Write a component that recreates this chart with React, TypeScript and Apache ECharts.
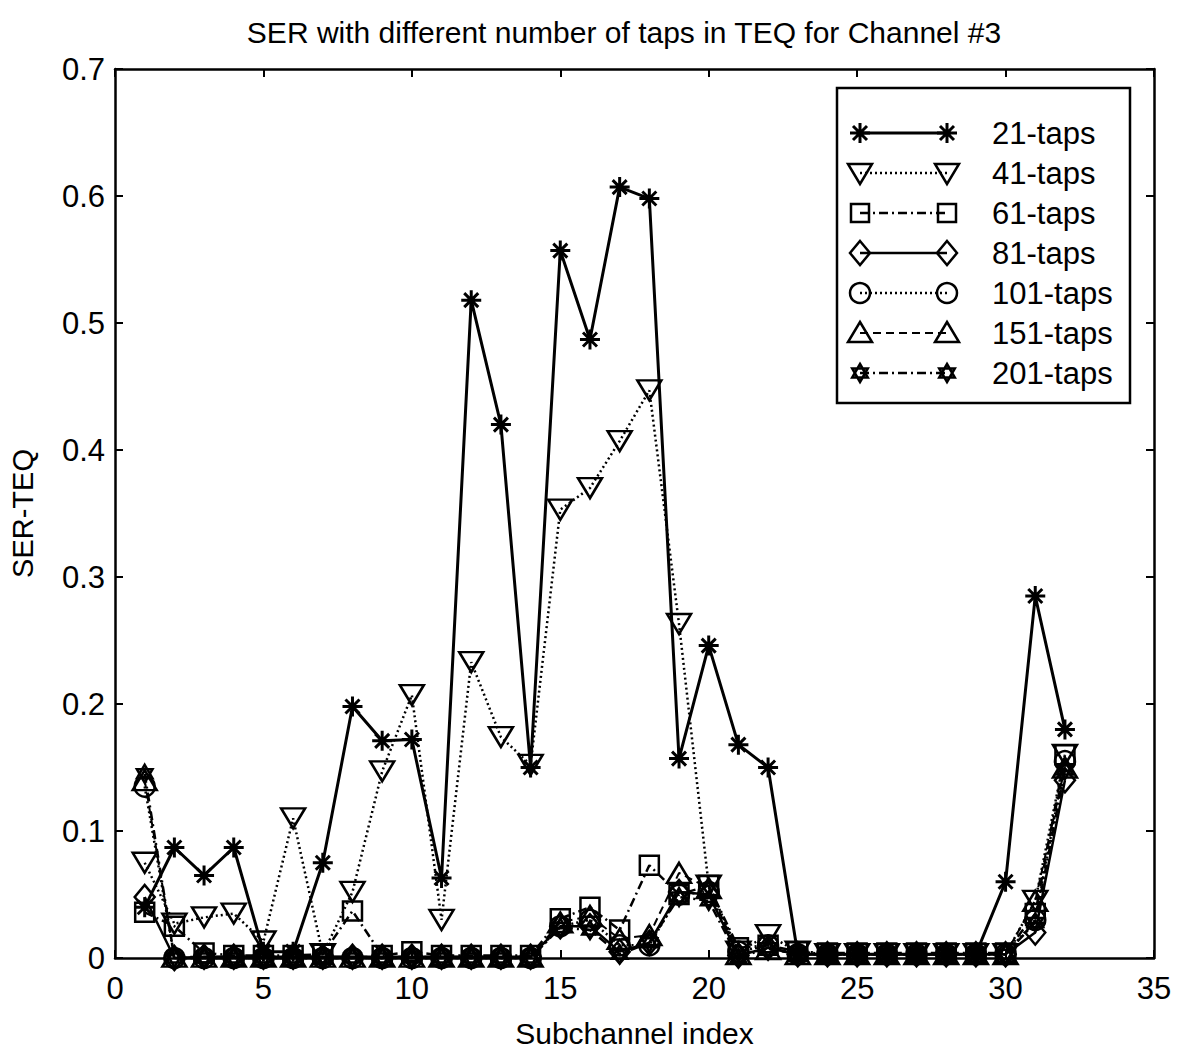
import React, { useEffect, useRef } from "react";
import * as echarts from "echarts";

const subchannels = [1, 2, 3, 4, 5, 6, 7, 8, 9, 10, 11, 12, 13, 14, 15, 16, 17, 18, 19, 20, 21, 22, 23, 24, 25, 26, 27, 28, 29, 30, 31, 32];

const taps21 = [0.040, 0.087, 0.065, 0.087, 0.005, 0.005, 0.075, 0.198, 0.171, 0.172, 0.063, 0.518, 0.420, 0.150, 0.557, 0.487, 0.607, 0.598, 0.157, 0.246, 0.168, 0.150, 0.003, 0.003, 0.003, 0.003, 0.003, 0.003, 0.003, 0.060, 0.285, 0.180];
const taps41 = [0.075, 0.027, 0.032, 0.035, 0.013, 0.110, 0.003, 0.052, 0.147, 0.207, 0.030, 0.233, 0.174, 0.152, 0.353, 0.370, 0.407, 0.447, 0.263, 0.057, 0.005, 0.018, 0.005, 0.003, 0.003, 0.003, 0.003, 0.003, 0.003, 0.003, 0.045, 0.160];
const taps61 = [0.036, 0.025, 0.004, 0.002, 0.002, 0.002, 0.003, 0.037, 0.002, 0.005, 0.002, 0.002, 0.002, 0.002, 0.031, 0.040, 0.022, 0.073, 0.050, 0.057, 0.008, 0.010, 0.005, 0.004, 0.004, 0.004, 0.004, 0.004, 0.004, 0.004, 0.035, 0.160];
const taps81 = [0.048, 0.000, 0.001, 0.001, 0.001, 0.001, 0.001, 0.001, 0.001, 0.001, 0.001, 0.001, 0.001, 0.001, 0.025, 0.025, 0.005, 0.012, 0.052, 0.050, 0.002, 0.008, 0.003, 0.003, 0.003, 0.003, 0.003, 0.003, 0.003, 0.003, 0.020, 0.140];
const taps101 = [0.135, 0.000, 0.000, 0.000, 0.000, 0.000, 0.000, 0.000, 0.000, 0.000, 0.000, 0.000, 0.000, 0.000, 0.025, 0.030, 0.010, 0.010, 0.050, 0.052, 0.005, 0.010, 0.003, 0.003, 0.003, 0.003, 0.003, 0.003, 0.003, 0.003, 0.030, 0.155];
const taps151 = [0.140, 0.001, 0.001, 0.001, 0.001, 0.001, 0.001, 0.001, 0.001, 0.001, 0.001, 0.001, 0.001, 0.001, 0.028, 0.033, 0.015, 0.018, 0.067, 0.055, 0.003, 0.007, 0.003, 0.003, 0.003, 0.003, 0.003, 0.003, 0.003, 0.003, 0.045, 0.150];
const taps201 = [0.145, 0.000, 0.000, 0.000, 0.000, 0.000, 0.000, 0.000, 0.000, 0.000, 0.000, 0.000, 0.000, 0.000, 0.024, 0.022, 0.003, 0.012, 0.048, 0.045, 0.000, 0.008, 0.003, 0.003, 0.003, 0.003, 0.003, 0.003, 0.003, 0.003, 0.028, 0.148];

const seriesNames = ["21-taps", "41-taps", "61-taps", "81-taps", "101-taps", "151-taps", "201-taps"];
const xTicks = [0, 35, 5];
const yTicks = [0, 0.7, 0.1];

const TITLE = "SER with different number of taps in TEQ for Channel #3";
const X_NAME = "Subchannel index";
const Y_NAME = "SER-TEQ";

const FONT = "'Liberation Sans', Arial, sans-serif";
const ASTERISK = "M0,-10L0,10M-10,0L10,0M-7,-7L7,7M-7,7L7,-7";
const HEXAGRAM = "M0,-9L7.8,4.5L-7.8,4.5ZM0,9L7.8,-4.5L-7.8,-4.5Z";

echarts.graphic.registerShape("asterisk", echarts.graphic.extendPath(ASTERISK, {}));
echarts.graphic.registerShape("hexagram", echarts.graphic.extendPath(HEXAGRAM, {}));

const DOT = [2, 3];
const DASHDOT = [9, 4, 2, 4];
const DASH = [8, 5];

type Style = {
  lineType: any;
  lineWidth: number;
  symbol: string;
  symbolSize: any;
  symbolRotate?: number;
  keep?: boolean;
  marker: string;
};

const styles: Style[] = [
  { lineType: "solid", lineWidth: 3, symbol: "path://" + ASTERISK, symbolSize: 20, marker: "asterisk" },
  { lineType: DOT, lineWidth: 2.5, symbol: "triangle", symbolSize: [24, 20], symbolRotate: 180, marker: "tridown" },
  { lineType: DASHDOT, lineWidth: 2.5, symbol: "rect", symbolSize: 19, marker: "square" },
  { lineType: "solid", lineWidth: 2.5, symbol: "diamond", symbolSize: [20, 24], marker: "diamond" },
  { lineType: DOT, lineWidth: 2.5, symbol: "circle", symbolSize: 20, marker: "circle" },
  { lineType: DASH, lineWidth: 2, symbol: "triangle", symbolSize: [24, 20], marker: "triup" },
  { lineType: DASHDOT, lineWidth: 2.5, symbol: "path://" + HEXAGRAM, symbolSize: 18, keep: true, marker: "hexagram" },
];

const seriesValues = [taps21, taps41, taps61, taps81, taps101, taps151, taps201];

function legendMarker(kind: string, x: number, y: number): any {
  const st = { stroke: "#000", lineWidth: 2.5, fill: "none" };
  switch (kind) {
    case "asterisk":
      return { type: "asterisk", x, y, style: { ...st, lineWidth: 3 } };
    case "hexagram":
      return { type: "hexagram", x, y, style: st };
    case "tridown":
      return { type: "polygon", shape: { points: [[x - 12, y - 9], [x + 12, y - 9], [x, y + 11]] }, style: st };
    case "triup":
      return { type: "polygon", shape: { points: [[x, y - 11], [x + 12, y + 9], [x - 12, y + 9]] }, style: st };
    case "square":
      return { type: "rect", shape: { x: x - 9, y: y - 9, width: 18, height: 18 }, style: st };
    case "diamond":
      return { type: "polygon", shape: { points: [[x, y - 12], [x + 10, y], [x, y + 12], [x - 10, y]] }, style: st };
    default:
      return { type: "circle", shape: { cx: x, cy: y, r: 10 }, style: st };
  }
}

export default function App() {
  const ref = useRef<HTMLDivElement>(null);
  useEffect(() => {
    document.body.style.margin = "0";
    if (!ref.current) return;
    const chart = echarts.init(ref.current, null, { renderer: "svg" });

    const series = seriesNames.map((name, i) => ({
      name,
      type: "line",
      data: subchannels.map((x, j) => [x, seriesValues[i][j]]),
      symbol: styles[i].symbol,
      symbolSize: styles[i].symbolSize,
      symbolRotate: styles[i].symbolRotate || 0,
      symbolKeepAspect: !!styles[i].keep,
      showAllSymbol: true,
      clip: false,
      lineStyle: { color: "#000", width: styles[i].lineWidth, type: styles[i].lineType },
      itemStyle: { color: "rgba(255,255,255,0)", borderColor: "#000", borderWidth: i === 0 ? 3 : 2.5 },
      z: 10 - i,
    }));

    const legendLeft = 837, legendTop = 88, legendW = 293, legendH = 315;
    const legendEls: any[] = [
      { type: "rect", shape: { x: legendLeft, y: legendTop, width: legendW, height: legendH }, style: { fill: "#fff", stroke: "#000", lineWidth: 2.5 }, z: 100 },
    ];
    seriesNames.forEach((name, i) => {
      const y = 133 + i * 40;
      legendEls.push({
        type: "line",
        shape: { x1: 860, y1: y, x2: 947, y2: y },
        style: { stroke: "#000", lineWidth: styles[i].lineWidth, lineDash: Array.isArray(styles[i].lineType) ? styles[i].lineType : null },
        z: 101,
      });
      legendEls.push({ ...legendMarker(styles[i].marker, 860, y), z: 102 });
      legendEls.push({ ...legendMarker(styles[i].marker, 947, y), z: 102 });
      legendEls.push({
        type: "text",
        x: 992,
        y,
        style: { text: name, fill: "#000", fontSize: 31, fontFamily: FONT, align: "left", verticalAlign: "middle", textAlign: "left", textVerticalAlign: "middle" },
        z: 102,
      });
    });

    const axisCommon = {
      type: "value",
      axisLine: { show: true, onZero: false, lineStyle: { color: "#000", width: 2.5 } },
      axisTick: { show: true, inside: true, length: 8, lineStyle: { color: "#000", width: 2 } },
      splitLine: { show: false },
    };

    chart.setOption({
      animation: false,
      backgroundColor: "#fff",
      grid: { left: 110, right: 24, top: 69, bottom: 90 },
      xAxis: [
        {
          ...axisCommon,
          position: "bottom",
          min: xTicks[0], max: xTicks[1], interval: xTicks[2],
          axisLabel: { color: "#000", fontSize: 31, fontFamily: FONT, margin: 15 },
          name: X_NAME, nameLocation: "middle", nameGap: 60,
          nameTextStyle: { color: "#000", fontSize: 30, fontFamily: FONT },
        },
        {
          ...axisCommon,
          position: "top",
          min: xTicks[0], max: xTicks[1], interval: xTicks[2],
          axisLabel: { show: false },
        },
      ],
      yAxis: [
        {
          ...axisCommon,
          position: "left",
          min: yTicks[0], max: yTicks[1], interval: yTicks[2],
          axisLabel: { color: "#000", fontSize: 31, fontFamily: FONT, margin: 10, formatter: (v: number) => (v === 0 ? "0" : v.toFixed(1)) },
          name: Y_NAME, nameLocation: "middle", nameGap: 78, nameRotate: 90,
          nameTextStyle: { color: "#000", fontSize: 29, fontFamily: FONT },
        },
        {
          ...axisCommon,
          position: "right",
          min: yTicks[0], max: yTicks[1], interval: yTicks[2],
          axisLabel: { show: false },
        },
      ],
      graphic: [
        {
          type: "text",
          x: 624,
          y: 32,
          style: { text: TITLE, fill: "#000", fontSize: 30, fontFamily: FONT, align: "center", verticalAlign: "middle", textAlign: "center", textVerticalAlign: "middle" },
        },
        ...legendEls,
      ],
      series,
    });
    return () => chart.dispose();
  }, []);
  return <div ref={ref} style={{ width: 1178, height: 1053 }} />;
}
